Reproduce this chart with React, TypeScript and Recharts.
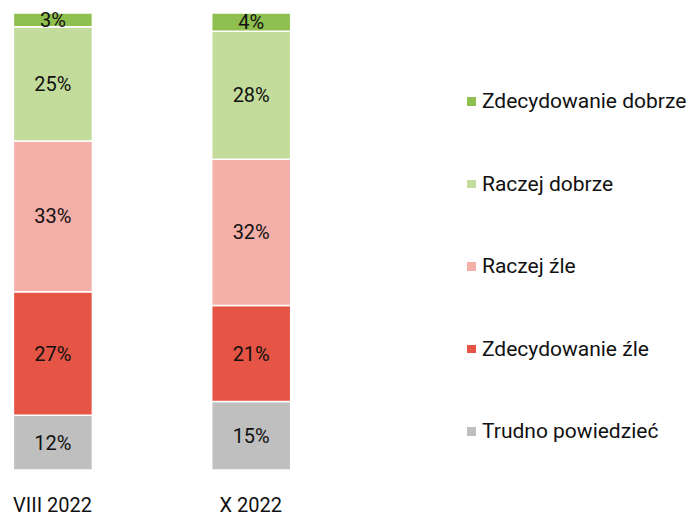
import React from 'react';
import { BarChart, Bar, XAxis, YAxis, Legend, LabelList } from 'recharts';

const periods = ['VIII 2022', 'X 2022'];
const trudno = [12, 15];
const zdecZle = [27, 21];
const raczejZle = [33, 32];
const raczejDobrze = [25, 28];
const zdecDobrze = [3, 4];

const series = [
  { key: 'trudno', name: 'Trudno powiedzieć', color: '#bfbfbf', values: trudno },
  { key: 'zdecZle', name: 'Zdecydowanie źle', color: '#e55444', values: zdecZle },
  { key: 'raczejZle', name: 'Raczej źle', color: '#f4afa8', values: raczejZle },
  { key: 'raczejDobrze', name: 'Raczej dobrze', color: '#c3dc9b', values: raczejDobrze },
  { key: 'zdecDobrze', name: 'Zdecydowanie dobrze', color: '#8fc04f', values: zdecDobrze },
];

const data = periods.map((p, i) => {
  const row: Record<string, string | number> = { period: p };
  series.forEach((s) => {
    row[s.key] = s.values[i];
  });
  return row;
});

const FONT = 'Roboto, "Noto Sans", sans-serif';

// legend shows the stack top-down, so reverse the series order
const legendOrder = series.map((s) => s.name).reverse();

function renderLegend(props: any) {
  const items = [...(props.payload || [])].sort(
    (a: any, b: any) => legendOrder.indexOf(a.value) - legendOrder.indexOf(b.value)
  );
  return (
    <div style={{ fontFamily: FONT, fontSize: 21, color: '#111' }}>
      {items.map((entry: any) => (
        <div
          key={entry.value}
          style={{ height: 82.5, display: 'flex', alignItems: 'center' }}
        >
          <span
            style={{
              width: 8.5,
              height: 8.5,
              backgroundColor: entry.color,
              display: 'inline-block',
              marginRight: 6.5,
            }}
          />
          <span>{entry.value}</span>
        </div>
      ))}
    </div>
  );
}

export default function App() {
  return (
    <div style={{ position: 'absolute', left: 0, top: 0, fontFamily: FONT, background: '#fff' }}>
      <BarChart
        width={691}
        height={515}
        data={data}
        margin={{ top: 13, right: 341, left: -46.6, bottom: 0 }}
        barCategoryGap={0}
      >
        <XAxis
          dataKey="period"
          axisLine={false}
          tickLine={false}
          tickSize={6}
          tickMargin={22}
          height={45}
          tick={{ fontSize: 20, fill: '#111', fontFamily: FONT }}
        />
        <YAxis hide domain={[0, 100]} />
        <Legend
          layout="vertical"
          align="center"
          verticalAlign="middle"
          content={renderLegend}
          wrapperStyle={{ left: 467, top: 60, width: 224 }}
        />
        {series.map((s) => (
          <Bar
            key={s.key}
            dataKey={s.key}
            name={s.name}
            stackId="a"
            fill={s.color}
            stroke="#ffffff"
            strokeWidth={1.5}
            barSize={79}
            isAnimationActive={false}
          >
            <LabelList
              dataKey={s.key}
              position="center"
              formatter={(v: any) => `${v}%`}
              style={{ fontSize: 20, fill: '#111', fontFamily: FONT }}
            />
          </Bar>
        ))}
      </BarChart>
    </div>
  );
}
